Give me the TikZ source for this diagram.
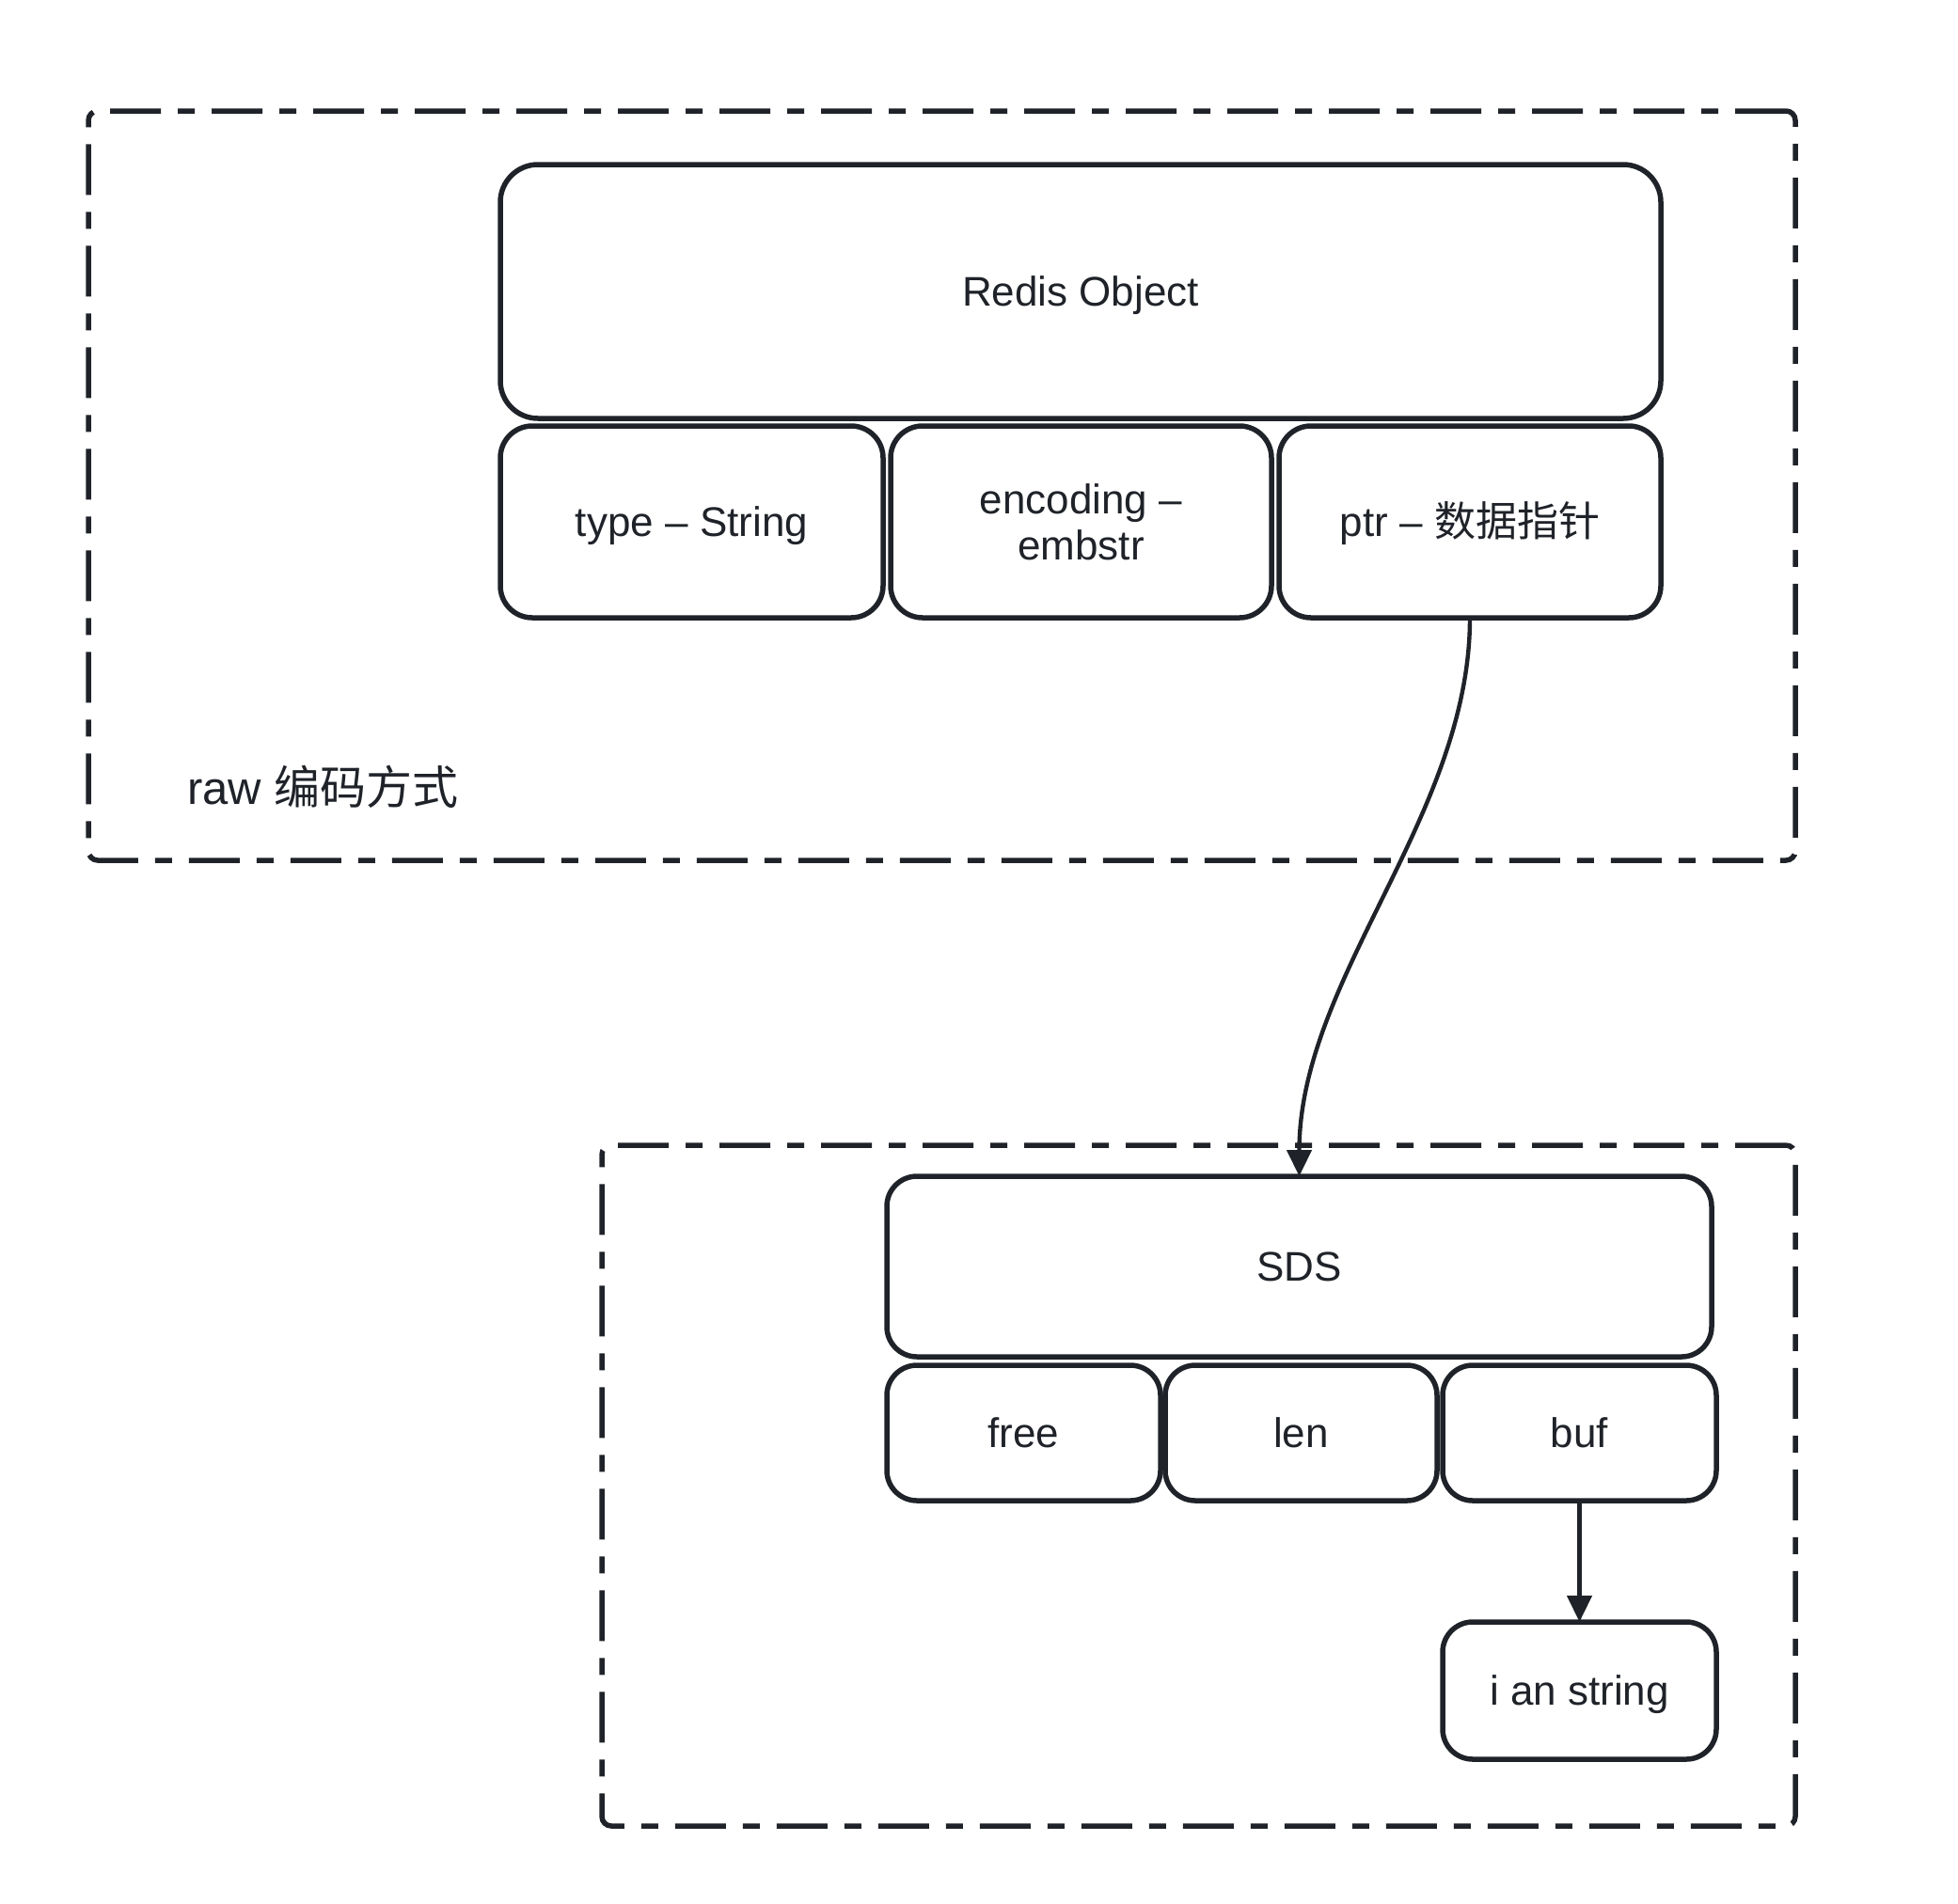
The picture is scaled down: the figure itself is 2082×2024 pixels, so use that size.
\documentclass[tikz,border=0pt]{standalone}
\usepackage{fontspec}
\setmainfont{Liberation Sans}
\newfontfamily\cjk{Noto Sans CJK SC}
\usetikzlibrary{arrows.meta}
\definecolor{lc}{HTML}{1F2329}
\tikzset{
  box/.style={draw=lc, line width=2.75pt, rounded corners=16pt, inner sep=0pt, outer sep=0pt,
    align=center, text=lc, font=\fontsize{22}{24.5}\selectfont},
  oneline/.style={text height=15.5pt, text depth=0pt},
  group/.style={draw=lc, line width=2.75pt, rounded corners=5pt, inner sep=0pt, outer sep=0pt,
    dash pattern=on 27pt off 9pt on 9pt off 9pt},
  conn/.style={draw=lc, line width=2.2pt, -{Triangle[width=13pt,length=14pt]}},
}
\begin{document}
\begin{tikzpicture}[x=0.5pt,y=-0.5pt]
\useasboundingbox (0,0) rectangle (2082,2024);
% groups
\node[group, minimum width=907.5pt, minimum height=398.5pt] (g1) at (1001.5,516.5) {};
\node[group, minimum width=634.5pt, minimum height=362pt] (g2) at (1274.5,1580) {};
% Redis object
\node[box, oneline, rounded corners=20pt, minimum width=617pt, minimum height=135pt] (redis) at (1149,310) {Redis Object};
\node[box, oneline, rounded corners=17pt, minimum width=203.5pt, minimum height=102pt] (type) at (735.5,555) {type – String};
\node[box, rounded corners=17pt, minimum width=202.5pt, minimum height=102pt] (enc) at (1149.5,555) {encoding –\\embstr};
\node[box, oneline, rounded corners=17pt, minimum width=203pt, minimum height=102pt] (ptr) at (1563,555) {ptr – {\cjk 数据指针}};
\node[anchor=west, inner sep=0pt, text=lc, font=\fontsize{24.5}{27}\selectfont] (raw) at (199,837) {raw {\cjk 编码方式}};
% SDS
\node[box, oneline, minimum width=438.5pt, minimum height=96pt] (sds) at (1381.5,1347) {SDS};
\node[box, oneline, minimum width=145.5pt, minimum height=72pt] (free) at (1088.5,1524) {free};
\node[box, oneline, minimum width=144.5pt, minimum height=72pt] (len) at (1383.5,1524) {len};
\node[box, oneline, minimum width=145.5pt, minimum height=72pt] (buf) at (1679.5,1524) {buf};
\node[box, oneline, minimum width=145.5pt, minimum height=73pt] (str) at (1679.5,1798) {i an string};
% connectors
\draw[conn] (ptr.south) .. controls +(0,211) and +(0,-211) .. (sds.north);
\draw[conn] (buf.south) -- (str.north);
\end{tikzpicture}
\end{document}
